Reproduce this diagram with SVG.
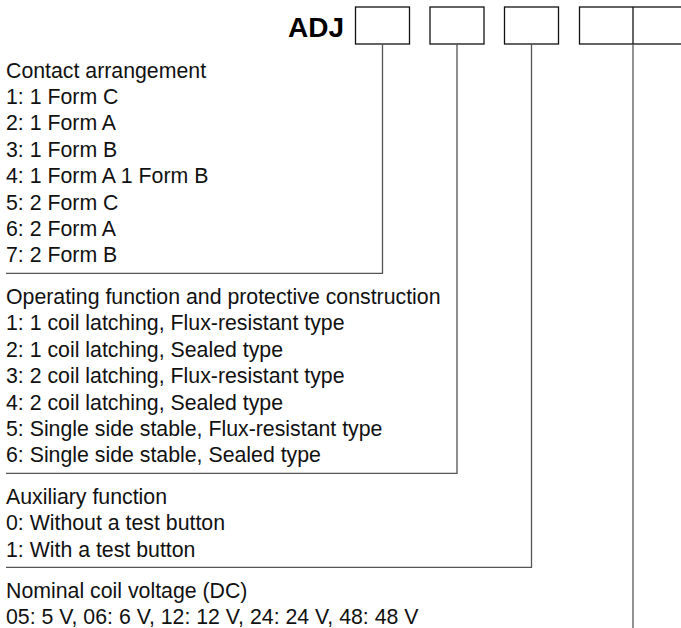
<svg xmlns="http://www.w3.org/2000/svg" width="681" height="628" viewBox="0 0 681 628">
<style>
text{font-family:"Liberation Sans",Arial,sans-serif;font-size:21.3px;fill:#111}
.title{font-weight:bold;font-size:28px;fill:#000}
.box{fill:#fff;stroke:#111;stroke-width:1.3}
.conn{fill:none;stroke:#555;stroke-width:1.3}
</style>
<rect width="681" height="628" fill="#fff"/>
<g id="title"><text class="title" x="344" y="37" text-anchor="end">ADJ</text></g>
<g id="box1"><rect class="box" x="355.5" y="7" width="54" height="37"/></g>
<g id="box2"><rect class="box" x="430" y="7" width="54" height="37"/></g>
<g id="box3"><rect class="box" x="504.5" y="7" width="54" height="37"/></g>
<g id="box4"><rect class="box" x="579.5" y="7" width="108" height="37"/><line x1="633" y1="7" x2="633" y2="44" stroke="#111" stroke-width="1.3"/></g>
<g id="connectors">
<path class="conn" d="M382.5 44 V273.3 H6"/>
<path class="conn" d="M457 44 V473.3 H6"/>
<path class="conn" d="M531.5 44 V567.3 H6"/>
<path class="conn" d="M633 44 V628"/>
</g>
<g id="contact">
<text x="6" y="77.5">Contact arrangement</text>
<text x="6" y="103.9">1: 1 Form C</text>
<text x="6" y="130.3">2: 1 Form A</text>
<text x="6" y="156.7">3: 1 Form B</text>
<text x="6" y="183.1">4: 1 Form A 1 Form B</text>
<text x="6" y="209.5">5: 2 Form C</text>
<text x="6" y="235.9">6: 2 Form A</text>
<text x="6" y="262.3">7: 2 Form B</text>
</g>
<g id="operating">
<text x="6" y="304">Operating function and protective construction</text>
<text x="6" y="330.4">1: 1 coil latching, Flux-resistant type</text>
<text x="6" y="356.8">2: 1 coil latching, Sealed type</text>
<text x="6" y="383.2">3: 2 coil latching, Flux-resistant type</text>
<text x="6" y="409.6">4: 2 coil latching, Sealed type</text>
<text x="6" y="436">5: Single side stable, Flux-resistant type</text>
<text x="6" y="462.4">6: Single side stable, Sealed type</text>
</g>
<g id="auxiliary">
<text x="6" y="504">Auxiliary function</text>
<text x="6" y="530.4">0: Without a test button</text>
<text x="6" y="556.8">1: With a test button</text>
</g>
<g id="voltage">
<text x="6" y="598">Nominal coil voltage (DC)</text>
<text x="6" y="624.4">05: 5 V, 06: 6 V, 12: 12 V, 24: 24 V, 48: 48 V</text>
</g>
</svg>
